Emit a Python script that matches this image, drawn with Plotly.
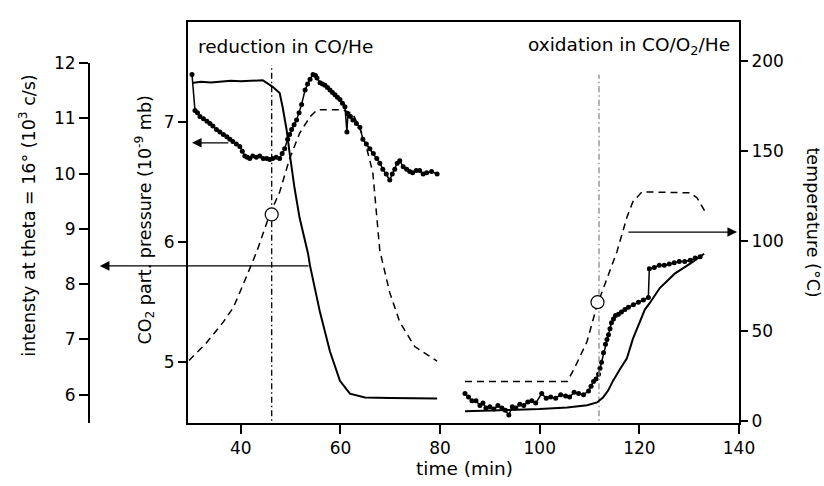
import plotly.graph_objects as go

# ---------------- data ----------------
# reduction in CO/He : intensity (outer left axis, 10^3 c/s)
red_t_int = [30.2, 32.0, 34.0, 36.0, 38.0, 40.0, 42.0, 44.4, 46.4, 47.8, 48.4, 49.2, 49.8,
             50.8, 51.8, 53.5, 53.9, 55.9, 57.9, 59.9, 61.9, 64.9, 70.0, 75.0, 79.4]
red_int = [11.64, 11.66, 11.65, 11.67, 11.68, 11.67, 11.68, 11.69, 11.57, 11.46, 11.20, 10.79, 10.37,
           9.73, 9.20, 8.55, 8.33, 7.49, 6.78, 6.25, 6.02, 5.95, 5.94, 5.93, 5.93]

# reduction: CO2 partial pressure (inner left axis, 10^-9 mb)
red_t_co2 = [30.2, 30.8, 31.3, 31.8, 32.5, 33.2, 33.8, 34.4, 35.1, 35.8, 36.5, 37.2, 37.8, 38.4,
             39.1, 39.8, 40.3, 40.8, 41.3, 41.8, 42.4, 43.1, 43.8, 44.5, 45.2, 45.8, 46.4, 47.1,
             47.8, 48.3, 48.8, 49.4, 49.8, 50.2, 50.7, 51.2, 51.7, 52.2, 52.9, 53.4, 53.9, 54.5,
             55.0, 55.3, 55.9, 56.4, 56.9, 57.4, 57.9, 58.4, 58.9, 59.4, 59.9, 60.4, 60.9, 61.3,
             61.5, 62.0, 62.5, 63.2, 63.9, 64.5, 65.2, 65.9, 66.6, 67.3, 67.9, 68.5, 69.2, 69.9,
             70.4, 70.9, 71.4, 71.9, 72.6, 73.3, 73.9, 74.5, 75.2, 75.9, 76.6, 77.3, 78.3, 79.4]
red_co2 = [7.40, 7.10, 7.08, 7.05, 7.03, 7.01, 6.99, 6.97, 6.94, 6.92, 6.90, 6.88, 6.86, 6.84,
           6.82, 6.80, 6.76, 6.72, 6.71, 6.70, 6.72, 6.71, 6.72, 6.70, 6.70, 6.69, 6.70, 6.71,
           6.70, 6.74, 6.78, 6.86, 6.90, 6.94, 6.98, 7.02, 7.08, 7.15, 7.27, 7.32, 7.36, 7.40,
           7.39, 7.37, 7.33, 7.32, 7.31, 7.29, 7.27, 7.25, 7.23, 7.21, 7.19, 7.16, 7.13, 6.92,
           7.07, 7.05, 7.02, 6.99, 6.96, 6.86, 6.82, 6.78, 6.74, 6.70, 6.66, 6.61, 6.57, 6.52,
           6.57, 6.61, 6.66, 6.68, 6.63, 6.61, 6.59, 6.58, 6.60, 6.60, 6.57, 6.58, 6.59, 6.57]

# reduction: temperature (right axis, degC)
red_t_temp = [29.6, 33.0, 36.5, 38.5, 40.5, 42.0, 43.2, 45.8, 47.8, 49.8, 51.8, 53.9, 55.3,
              60.5, 62.5, 64.3, 65.3, 66.5, 67.9, 69.9, 71.9, 74.9, 79.4]
red_temp = [33.5, 43.0, 55.0, 63.0, 76.0, 86.0, 94.1, 114.8, 127.3, 145.8, 160.0, 169.2, 173.0,
            173.0, 170.8, 160.0, 151.3, 138.2, 94.7, 71.3, 55.0, 41.3, 33.2]

# oxidation in CO/O2/He : intensity
ox_t_int = [85.0, 92.0, 100.0, 105.5, 109.5, 111.5, 112.7, 113.7, 114.7, 116.1, 117.5, 118.7,
            120.1, 121.1, 122.1, 124.1, 127.1, 130.2, 133.0]
ox_int = [5.70, 5.72, 5.74, 5.77, 5.81, 5.86, 5.95, 6.07, 6.25, 6.46, 6.66, 7.01,
          7.31, 7.54, 7.66, 7.93, 8.19, 8.37, 8.55]

# oxidation: CO2 partial pressure
ox_t_co2 = [85.0, 85.7, 86.4, 87.2, 88.0, 88.6, 89.2, 90.0, 90.8, 91.6, 92.4, 93.1, 93.8, 94.5,
            95.2, 96.0, 96.8, 97.6, 98.4, 99.2, 100.4, 101.3, 102.2, 103.2, 104.2, 105.2, 106.0,
            106.9, 107.8, 108.8, 109.8, 110.3, 110.8, 111.3, 111.8, 112.1, 112.4, 112.8, 113.2,
            113.5, 113.8, 114.1, 114.4, 114.8, 115.2, 115.8, 116.4, 117.1, 117.8, 118.8, 119.8,
            120.8, 121.8, 122.0, 123.0, 124.0, 125.0, 126.0, 127.0, 128.0, 129.1, 130.2, 131.2,
            132.2]
ox_co2 = [4.74, 4.71, 4.68, 4.68, 4.64, 4.66, 4.62, 4.63, 4.61, 4.64, 4.62, 4.60, 4.56, 4.63,
          4.62, 4.65, 4.64, 4.67, 4.68, 4.66, 4.74, 4.70, 4.71, 4.70, 4.73, 4.72, 4.71,
          4.75, 4.74, 4.73, 4.76, 4.80, 4.84, 4.86, 4.90, 4.95, 5.00, 5.08, 5.15,
          5.19, 5.23, 5.28, 5.33, 5.36, 5.39, 5.40, 5.42, 5.44, 5.46, 5.48, 5.50,
          5.52, 5.54, 5.78, 5.79, 5.81, 5.81, 5.82, 5.83, 5.84, 5.84, 5.85, 5.87,
          5.88]

# oxidation: temperature
ox_t_temp = [85.0, 105.5, 106.7, 109.5, 111.5, 115.5, 117.5, 118.7, 120.5, 122.1, 130.2, 131.6, 133.2]
ox_temp = [21.8, 21.8, 27.7, 44.1, 64.2, 94.1, 113.2, 121.9, 127.3, 127.3, 126.8, 124.0, 116.4]

# switching events (dash-dot lines) and the marked temperatures (open circles)
event_t = [46.2, 111.9]
event_top_temp = [198.0, 192.6]
event_colors = ["black", "#8a8a8a"]
circle_t = [46.2, 111.6]
circle_temp = [114.8, 66.0]

# axis ticks
time_ticks = [40, 60, 80, 100, 120, 140]
int_ticks = [6, 7, 8, 9, 10, 11, 12]
co2_ticks = [5, 6, 7]
temp_ticks = [0, 50, 100, 150, 200]

# arrows: (tail x, head x, y) pointing to the axis of each curve
arrow_co2 = (37.8, 30.2, 6.83)
arrow_int = (53.9, 11.7, 8.33)
arrow_temp = (117.5, 139.6, 105.0)

# ---------------- figure ----------------
FONT = "DejaVu Sans"
fig = go.Figure()

line_solid = dict(color="black", width=2)
line_dash = dict(color="black", width=1.5, dash="7px,5px")
line_dot = dict(color="black", width=1.5)
mk = dict(color="black", size=5)

for ev_t, ev_top, col in zip(event_t, event_top_temp, event_colors):
    fig.add_trace(go.Scatter(x=[ev_t, ev_t], y=[-5, ev_top], yaxis="y2", mode="lines",
                             line=dict(color=col, width=1.3, dash="6px,3px,1.5px,3px"),
                             hoverinfo="skip"))

fig.add_trace(go.Scatter(x=red_t_temp, y=red_temp, yaxis="y2", mode="lines", line=line_dash))
fig.add_trace(go.Scatter(x=ox_t_temp, y=ox_temp, yaxis="y2", mode="lines", line=line_dash))
fig.add_trace(go.Scatter(x=red_t_co2, y=red_co2, yaxis="y", mode="lines+markers", line=line_dot, marker=mk))
fig.add_trace(go.Scatter(x=ox_t_co2, y=ox_co2, yaxis="y", mode="lines+markers", line=line_dot, marker=mk))
fig.add_trace(go.Scatter(x=red_t_int, y=red_int, yaxis="y3", mode="lines", line=line_solid))
fig.add_trace(go.Scatter(x=ox_t_int, y=ox_int, yaxis="y3", mode="lines", line=line_solid))
fig.add_trace(go.Scatter(x=circle_t, y=circle_temp, yaxis="y2", mode="markers",
                         marker=dict(symbol="circle", size=13, color="white",
                                     line=dict(color="black", width=1.2))))

W, H = 824, 486
ML, MR, MT, MB = 40, 85, 13, 63
PW, PH = W - ML - MR, H - MT - MB


def px_x(px):
    return (px - ML) / PW


def px_y(py):
    return (H - MB - py) / PH


axis_common = dict(showgrid=False, zeroline=False, showline=True, linewidth=2, linecolor="black",
                   ticks="outside", tickwidth=2, tickcolor="black",
                   tickfont=dict(family=FONT, size=17, color="black"))

fig.update_layout(
    width=W, height=H,
    margin=dict(l=ML, r=MR, t=MT, b=MB),
    paper_bgcolor="white", plot_bgcolor="rgba(0,0,0,0)",
    showlegend=False,
    font=dict(family=FONT, size=17, color="black"),
    xaxis=dict(domain=[px_x(188), 1], range=[29.4, 140], tickvals=time_ticks, ticklen=9,
               mirror=True, anchor="y", **axis_common),
    yaxis=dict(range=[4.494, 7.837], tickvals=co2_ticks, ticklen=8, anchor="x", side="left",
               **axis_common),
    yaxis2=dict(range=[-1.25, 221.9], tickvals=temp_ticks, ticklen=7, overlaying="y",
                side="right", anchor="x", **axis_common),
    yaxis3=dict(range=[5.488, 12.0], tickvals=int_ticks, ticklen=9, domain=[0, px_y(55)],
                anchor="free", position=px_x(89), side="left", **axis_common),
)

arrow_style = dict(showarrow=True, text="", arrowhead=2, arrowsize=1.6, arrowwidth=1.2,
                   arrowcolor="black", standoff=0, startstandoff=0)
for (tail, head, yv), yref in [(arrow_co2, "y"), (arrow_int, "y3"), (arrow_temp, "y2")]:
    fig.add_annotation(x=head, y=yv, xref="x", yref=yref, ax=tail, ay=yv, axref="x",
                       ayref=yref, **arrow_style)

txt = dict(showarrow=False)
big = dict(family=FONT, size=18.5, color="black")
fig.add_annotation(text="reduction in CO/He", xref="paper", yref="paper", font=big,
                   x=px_x(196), y=px_y(38), xanchor="left", yanchor="middle", **txt)
fig.add_annotation(text="oxidation in CO/O<sub>2</sub>/He", xref="paper", yref="paper", font=big,
                   x=px_x(732), y=px_y(38), xanchor="right", yanchor="middle", **txt)
fig.add_annotation(text="time (min)", xref="paper", yref="paper", font=big,
                   x=px_x(464), y=px_y(470), xanchor="center", yanchor="middle", **txt)
ttl = dict(family=FONT, size=17.5, color="black")
fig.add_annotation(text="intensty at theta = 16° (10<sup>3</sup> c/s)", xref="paper", yref="paper",
                   font=ttl, x=px_x(27), y=px_y(211), xanchor="center", yanchor="middle",
                   textangle=-90, **txt)
fig.add_annotation(text="CO<sub>2</sub> part. pressure (10<sup>-9</sup> mb)", xref="paper", yref="paper",
                   font=ttl, x=px_x(145), y=px_y(216), xanchor="center", yanchor="middle",
                   textangle=-90, **txt)
fig.add_annotation(text="temperature (°C)", xref="paper", yref="paper", font=ttl,
                   x=px_x(813), y=px_y(218), xanchor="center", yanchor="middle", textangle=90, **txt)

fig.write_html("out.html")
